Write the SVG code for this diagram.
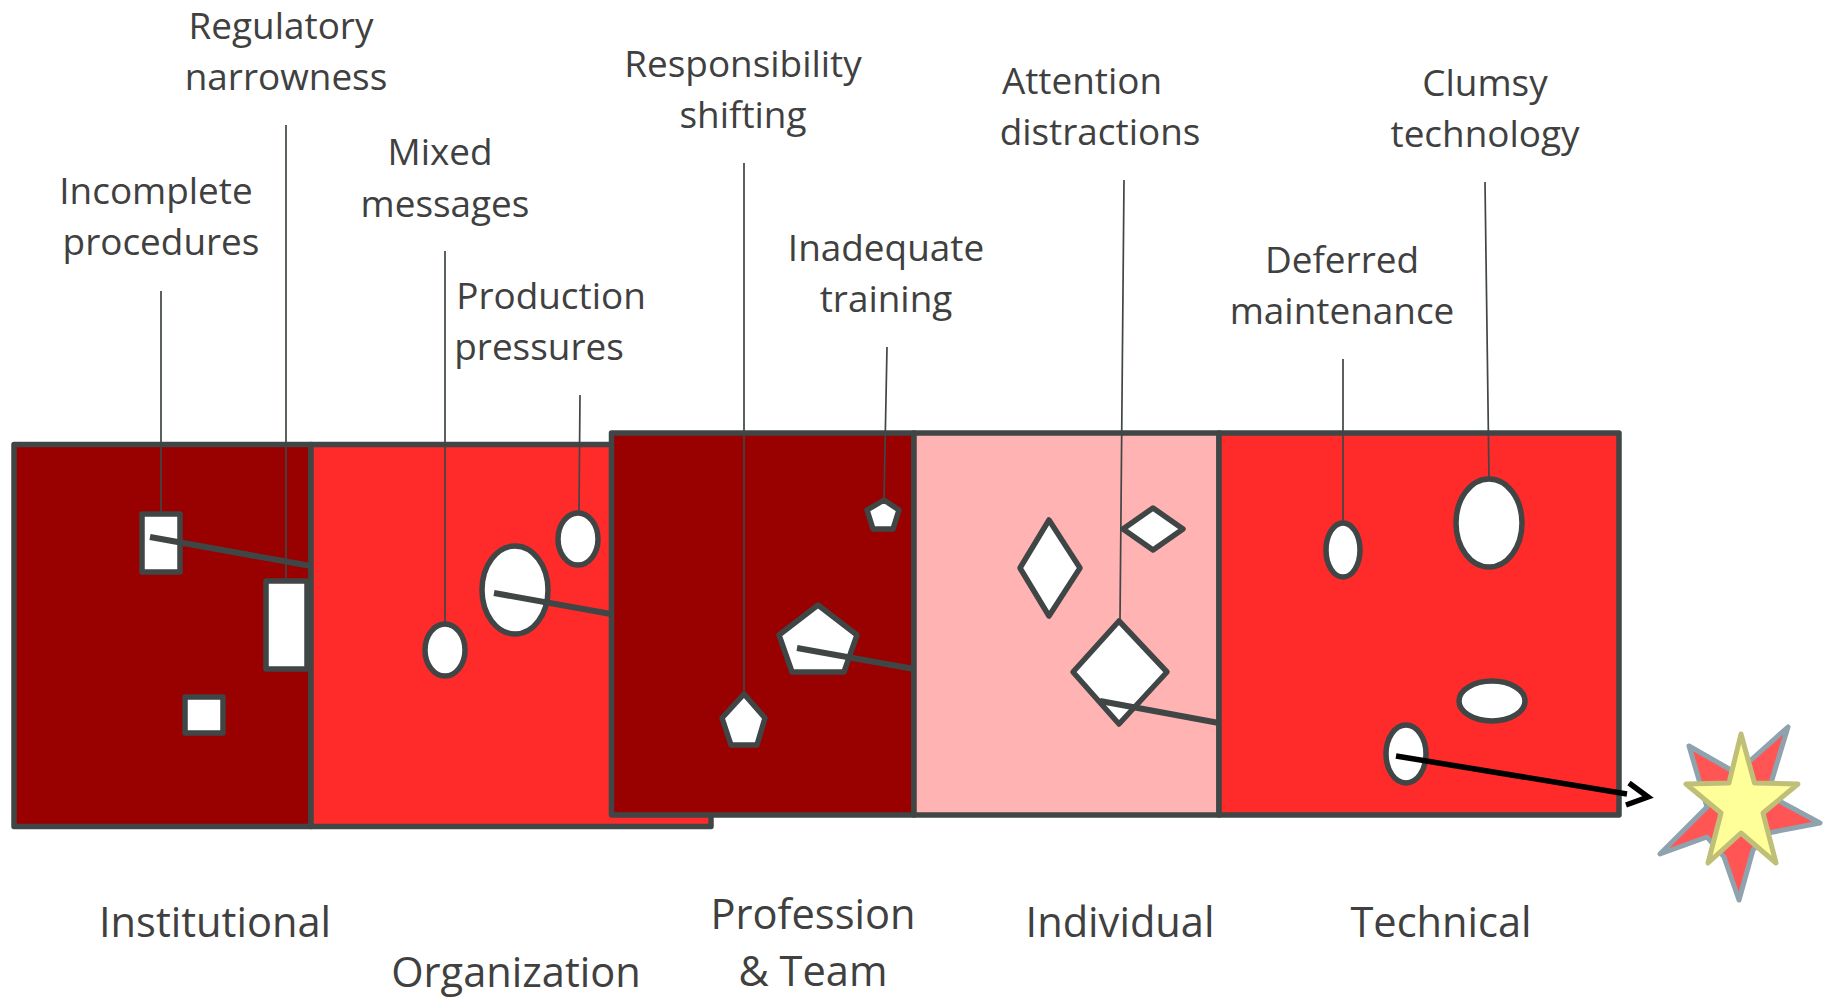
<svg xmlns="http://www.w3.org/2000/svg" width="1828" height="997" viewBox="0 0 1828 997">
<style>
.p{stroke:#404545;stroke-width:5.5;stroke-linejoin:round}
.s{fill:#fff;stroke:#404545;stroke-width:5.5;stroke-linejoin:round}
.t{stroke:#404545;stroke-width:1.7;fill:none}
.c{stroke:#404545;stroke-width:6;fill:none}
text{font-family:"Open Sans","Noto Sans",sans-serif;font-size:36.9px;fill:#404040;text-anchor:middle}
.b{font-size:41.6px}
</style>
<rect width="1828" height="997" fill="#fff"/>
<g id="panel-institutional"><rect class="p" x="14" y="444.5" width="297" height="382" fill="#990000"/></g>
<g id="panel-organization"><rect class="p" x="311" y="444.5" width="400" height="382" fill="#ff2b2b"/></g>
<g id="panel-profession"><rect class="p" x="611.5" y="433" width="302.5" height="382" fill="#990000"/></g>
<g id="panel-individual"><rect class="p" x="914" y="433" width="305" height="382" fill="#ffb3b3"/></g>
<g id="panel-technical"><rect class="p" x="1219" y="433" width="400" height="382" fill="#ff2b2b"/></g>
<g id="holes">
<rect class="s" x="142" y="514" width="38" height="58"/>
<rect class="s" x="266" y="581" width="41" height="88"/>
<rect class="s" x="185" y="697" width="38" height="36"/>
<ellipse class="s" cx="445" cy="650" rx="20" ry="26"/>
<ellipse class="s" cx="515" cy="590" rx="33" ry="44"/>
<ellipse class="s" cx="578" cy="539" rx="20" ry="26"/>
<polygon class="s" points="884,500 899,510 893,529 873,529 867,510"/>
<polygon class="s" points="818,605 857,635 844,672 792,672 779,635"/>
<polygon class="s" points="744,694 765,718 757,745 731,745 722,718"/>
<polygon class="s" points="1049,520 1080,568 1049,616 1020,568"/>
<polygon class="s" points="1153,508 1183,529 1153,550 1123,529"/>
<polygon class="s" points="1119,621 1167,672 1119,724 1073,672"/>
<ellipse class="s" cx="1343" cy="550" rx="17" ry="27"/>
<ellipse class="s" cx="1489" cy="523" rx="33" ry="44"/>
<ellipse class="s" cx="1492" cy="701" rx="33" ry="20"/>
<ellipse class="s" cx="1406" cy="754" rx="20" ry="29"/>
</g>
<g id="connectors">
<path class="t" d="M161 291V514M286 125V581M445 251V626M580 395L579 513M744 163V694M887 347L884 500M1124 180L1120 621M1343 359V524M1485 182L1489 479"/>
<path class="c" d="M150 537L311 566M494 593L611 614M797 648L914 669M1100 701L1219 723"/>
<path d="M1396 756L1627 794M1629 783L1648 797L1626 805" fill="none" stroke="#000" stroke-width="5.5"/>
</g>
<g id="burst">
<polygon points="1689,746 1731,770 1751,760 1788,727 1771,783 1781,802 1820,823 1768,833 1753,850 1739,900 1724,857 1707,837 1660,854 1707,807" fill="#ff5555" stroke="#8ea3ae" stroke-width="5" stroke-linejoin="round"/>
<polygon points="1741,734 1754.5,783 1798,784 1763,813 1776,863 1741,833 1708,863 1721,813 1686,784 1729,783" fill="#ffff99" stroke="#bfbf77" stroke-width="5" stroke-linejoin="round"/>
</g>
<g id="labels">
<text x="281" y="39">Regulatory</text><text x="286" y="90">narrowness</text>
<text x="156" y="204">Incomplete</text><text x="161" y="255">procedures</text>
<text x="440" y="165">Mixed</text><text x="445" y="217">messages</text>
<text x="551" y="309">Production</text><text x="539" y="360">pressures</text>
<text x="743" y="77">Responsibility</text><text x="743" y="128">shifting</text>
<text x="886" y="261">Inadequate</text><text x="886" y="312">training</text>
<text x="1082" y="94">Attention</text><text x="1100" y="145">distractions</text>
<text x="1342" y="273">Deferred</text><text x="1342" y="324">maintenance</text>
<text x="1485" y="96">Clumsy</text><text x="1485" y="147">technology</text>
<text class="b" x="215" y="937">Institutional</text>
<text class="b" x="516" y="987">Organization</text>
<text class="b" x="813" y="929">Profession</text><text class="b" x="813" y="986">&amp; Team</text>
<text class="b" x="1120" y="937">Individual</text>
<text class="b" x="1441" y="937">Technical</text>
</g>
</svg>
